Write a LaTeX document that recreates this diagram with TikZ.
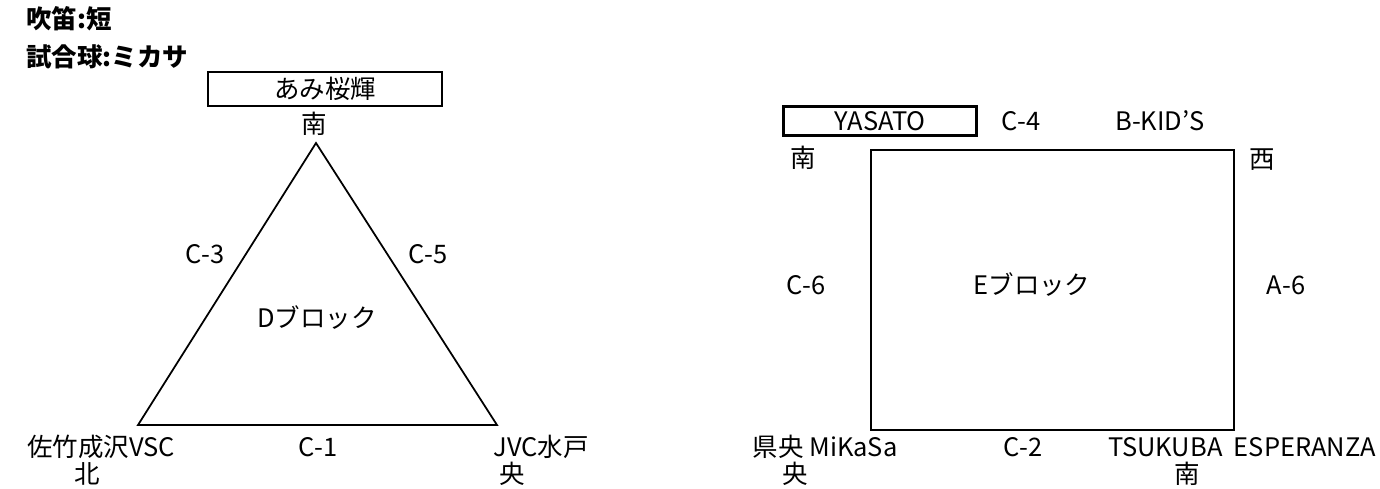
\documentclass[tikz,border=0pt]{standalone}
\usepackage{fontspec}
\setmainfont{Noto Sans CJK JP}
\begin{document}
\begin{tikzpicture}[x=0.02cm,y=-0.02cm,font=\fontsize{14.5}{17}\selectfont]
	\useasboundingbox (0,0) rectangle (1380,488);
	\tikzset{edge/.style={line width=1pt},
	         namebox/.style={draw,line width=1.2pt,inner sep=0pt}}
	% en-tete
	\node[anchor=west,font=\fontsize{14.5}{17}\selectfont\bfseries] (whistle) at (20,19) {吹笛:短};
	\node[anchor=west,font=\fontsize{14.5}{17}\selectfont\bfseries] (ball) at (20,57) {試合球:ミカサ};
	% bloc D
	\coordinate (dS) at (316,143);
	\coordinate (dN) at (138,425);
	\coordinate (dC) at (497,425);
	\draw[edge] (dS) -- (dN) -- (dC) -- cycle;
	\node[namebox,minimum width=234*0.02cm,minimum height=34*0.02cm] (ami) at (325,89) {あみ桜輝};
	\node (amiS) at (314,124) {南};
	\node (c3) at (205,254) {C-3};
	\node (c5) at (428,254) {C-5};
	\node (blockD) at (317,318) {Dブロック};
	\node (c1) at (318,447) {C-1};
	\node (sataku) at (101,447) {佐竹成沢VSC};
	\node (satakuN) at (87,474) {北};
	\node (jvc) at (541,447) {JVC水戸};
	\node (jvcC) at (512,474) {央};
	% bloc E
	\coordinate (eNW) at (871,150);
	\coordinate (eNE) at (1234,150);
	\coordinate (eSE) at (1234,430);
	\coordinate (eSW) at (871,430);
	\draw[edge] (eNW) -- (eNE) -- (eSE) -- (eSW) -- cycle;
	\node[namebox,minimum width=193*0.02cm,minimum height=29*0.02cm] (yasato) at (880,121) {YASATO};
	\node (yasatoS) at (803,158) {南};
	\node (c4) at (1021,121) {C-4};
	\node (bkids) at (1160,121) {B-KID'S};
	\node (bkidsW) at (1262,160) {西};
	\node (c6) at (806,285) {C-6};
	\node (blockE) at (1032,285) {Eブロック};
	\node (a6) at (1286,285) {A-6};
	\node (mikasa) at (825,447) {県央 MiKaSa};
	\node (mikasaC) at (795,474) {央};
	\node (c2) at (1023,447) {C-2};
	\node (tsukuba) at (1242,447) {TSUKUBA\ \ ESPERANZA};
	\node (tsukubaS) at (1187,474) {南};
\end{tikzpicture}
\end{document}
